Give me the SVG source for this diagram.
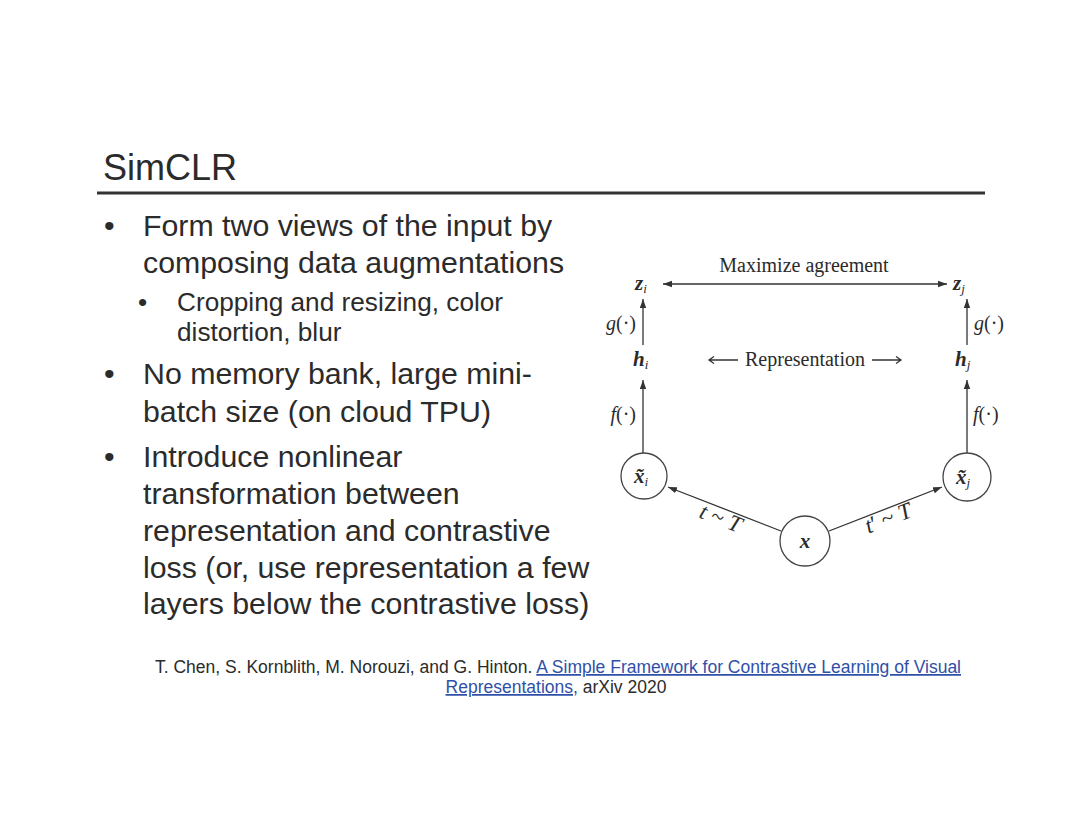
<svg xmlns="http://www.w3.org/2000/svg" width="1080" height="834" viewBox="0 0 1080 834">
<defs>
<style>
.sans{font-family:"Liberation Sans",Arial,sans-serif;fill:#2b2b2b}
.b1{font-size:30.3px}
.b2{font-size:26.2px}
.math{font-family:"Liberation Serif","Times New Roman",serif;fill:#2b2b2b}
.mb{font-weight:bold;font-style:italic;font-size:21px}
.fn{font-size:20px}
.it{font-style:italic}
.edge{stroke:#333;stroke-width:1.3;fill:none}
.node{stroke:#444;stroke-width:1.3;fill:#fff}
.foot{font-family:"Liberation Sans",Arial,sans-serif;font-size:17.5px;fill:#2b2b2b}
.link{fill:#3050a8;text-decoration:underline}
</style>
<marker id="ah" markerUnits="userSpaceOnUse" markerWidth="10" markerHeight="8" refX="9" refY="4" orient="auto-start-reverse">
<path d="M0,0.8 L9,4 L0,7.2 Z" fill="#333"/>
</marker>
</defs>
<rect width="1080" height="834" fill="#fff"/>

<g id="title">
<text class="sans" x="103" y="180" font-size="36">SimCLR</text>
<line x1="97" y1="193" x2="985" y2="193" stroke="#333" stroke-width="3"/>
</g>

<g id="bullets" class="sans">
<text class="sans b1" x="104" y="236">•</text>
<text class="sans b1" x="143" y="236">Form two views of the input by</text>
<text class="sans b1" x="143" y="273">composing data augmentations</text>
<text class="sans b2" x="138" y="311">•</text>
<text class="sans b2" x="177" y="311">Cropping and resizing, color</text>
<text class="sans b2" x="177" y="341">distortion, blur</text>
<text class="sans b1" x="104" y="384">•</text>
<text class="sans b1" x="143" y="384">No memory bank, large mini-</text>
<text class="sans b1" x="143" y="422">batch size (on cloud TPU)</text>
<text class="sans b1" x="104" y="467">•</text>
<text class="sans b1" x="143" y="467">Introduce nonlinear</text>
<text class="sans b1" x="143" y="504">transformation between</text>
<text class="sans b1" x="143" y="541">representation and contrastive</text>
<text class="sans b1" x="143" y="578">loss (or, use representation a few</text>
<text class="sans b1" x="143" y="614">layers below the contrastive loss)</text>
</g>

<g id="connectors">
<line class="edge" x1="663" y1="284" x2="947" y2="284" marker-start="url(#ah)" marker-end="url(#ah)"/>
<line class="edge" x1="643" y1="345" x2="643" y2="299" marker-end="url(#ah)"/>
<line class="edge" x1="967" y1="345" x2="967" y2="299" marker-end="url(#ah)"/>
<line class="edge" x1="643" y1="453" x2="643" y2="380" marker-end="url(#ah)"/>
<line class="edge" x1="967" y1="453" x2="967" y2="380" marker-end="url(#ah)"/>
<line class="edge" x1="781" y1="531" x2="668" y2="487" marker-end="url(#ah)"/>
<line class="edge" x1="829" y1="531" x2="942" y2="487" marker-end="url(#ah)"/>
<path class="edge" d="M709,360 H738 M714,356.5 L709,360 L714,363.5"/>
<path class="edge" d="M872,360 H901 M896,356.5 L901,360 L896,363.5"/>
<text class="math" x="804" y="272" font-size="20" text-anchor="middle">Maximize agreement</text>
<text class="math" x="805" y="366" font-size="20" text-anchor="middle">Representation</text>
<text class="math fn" x="636" y="330" text-anchor="end"><tspan class="it">g</tspan>(·)</text>
<text class="math fn" x="974" y="330"><tspan class="it">g</tspan>(·)</text>
<text class="math fn" x="636" y="421" text-anchor="end"><tspan class="it">f</tspan>(·)</text>
<text class="math fn" x="973" y="421"><tspan class="it">f</tspan>(·)</text>
<text class="math" font-size="23" transform="translate(718,525) rotate(21.4)" text-anchor="middle"><tspan class="it">t</tspan> ~ <tspan class="it">T</tspan></text>
<text class="math" font-size="23" transform="translate(891,525) rotate(-21.4)" text-anchor="middle"><tspan class="it">t</tspan>′ ~ <tspan class="it">T</tspan></text>
</g>

<g id="node-zi">
<text class="math" x="635" y="290"><tspan class="mb">z</tspan><tspan class="it" font-size="13" dy="3">i</tspan></text>
</g>
<g id="node-zj">
<text class="math" x="953" y="290"><tspan class="mb">z</tspan><tspan class="it" font-size="13" dy="3">j</tspan></text>
</g>
<g id="node-hi">
<text class="math" x="633" y="366"><tspan class="mb">h</tspan><tspan class="it" font-size="13" dy="3">i</tspan></text>
</g>
<g id="node-hj">
<text class="math" x="955" y="366"><tspan class="mb">h</tspan><tspan class="it" font-size="13" dy="3">j</tspan></text>
</g>
<g id="node-xi">
<circle class="node" cx="644" cy="476" r="23"/>
<text class="math" x="634" y="483"><tspan class="mb">x̃</tspan><tspan class="it" font-size="13" dy="3">i</tspan></text>
</g>
<g id="node-xj">
<circle class="node" cx="967" cy="477" r="24"/>
<text class="math" x="956" y="484"><tspan class="mb">x̃</tspan><tspan class="it" font-size="13" dy="3">j</tspan></text>
</g>
<g id="node-x">
<circle class="node" cx="805" cy="541" r="25"/>
<text class="math mb" x="805" y="548" text-anchor="middle">x</text>
</g>

<g id="footer">
<text class="foot" x="558" y="673" text-anchor="middle">T. Chen, S. Kornblith, M. Norouzi, and G. Hinton. <tspan class="link">A Simple Framework for Contrastive Learning of Visual</tspan></text>
<text class="foot" x="556" y="693" text-anchor="middle"><tspan class="link">Representations,</tspan> arXiv 2020</text>
</g>
</svg>
